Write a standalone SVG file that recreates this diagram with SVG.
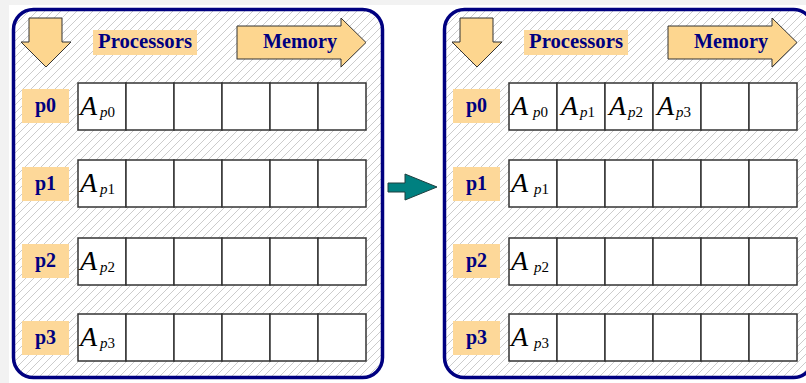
<svg xmlns="http://www.w3.org/2000/svg" width="806" height="383" viewBox="0 0 806 383">
<defs>
<pattern id="hatch" width="8" height="8" patternUnits="userSpaceOnUse">
<rect width="8" height="8" fill="#ffffff"/>
<path d="M-2,2 L2,-2 M0,8 L8,0 M6,10 L10,6" stroke="#cccccc" stroke-width="1"/>
</pattern>
<style>
.panel{fill:url(#hatch);stroke:#000080;stroke-width:3.5}
.cell{fill:#ffffff;stroke:#333333;stroke-width:1.5}
.lbl{fill:#fdd899}
.ltxt{font-family:"Liberation Serif","Times New Roman",serif;font-weight:700;font-size:20px;fill:#000080;text-anchor:middle}
.arw{fill:#fdd68f;stroke:#333333;stroke-width:1}
.A{font-family:"Liberation Serif","Times New Roman",serif;font-style:italic;font-size:28px;fill:#000000}
.sub{font-family:"Liberation Serif","Times New Roman",serif;font-size:15px;fill:#000000}
.it{font-style:italic}
</style>
</defs>
<rect width="806" height="383" fill="#ffffff"/>
<rect width="806" height="5" fill="#f2f2f2"/>
<rect width="9" height="383" fill="#f2f2f2"/>

<g id="left-panel">
<rect class="panel" x="13.5" y="9.5" width="369" height="368" rx="20" ry="20"/>
<g id="left-proc-arrow"><path class="arw" d="M29,18 H62 V42 H71 L46,67 L21,42 H29 Z"/></g>
<g id="left-proc-label"><rect class="lbl" x="93" y="30" width="104" height="25"/><text class="ltxt" x="145" y="48" textLength="94" lengthAdjust="spacingAndGlyphs">Processors</text></g>
<g id="left-mem-arrow"><path class="arw" d="M237,26 H341 V18 L366,42.5 L341,67 V59 H237 Z"/><text class="ltxt" x="300" y="48" textLength="74" lengthAdjust="spacingAndGlyphs">Memory</text></g>

<g id="left-p0">
<rect class="lbl" x="22" y="89" width="47" height="34"/><text class="ltxt" x="45.5" y="112">p0</text>
<rect class="cell" x="78" y="83" width="48" height="47"/><rect class="cell" x="126" y="83" width="48" height="47"/><rect class="cell" x="174" y="83" width="48" height="47"/><rect class="cell" x="222" y="83" width="48" height="47"/><rect class="cell" x="270" y="83" width="48" height="47"/><rect class="cell" x="318" y="83" width="48" height="47"/>
<text class="A" x="80" y="115">A</text><text class="sub" x="100" y="117"><tspan class="it">p</tspan>0</text>
</g>
<g id="left-p1">
<rect class="lbl" x="22" y="167" width="47" height="34"/><text class="ltxt" x="45.5" y="190">p1</text>
<rect class="cell" x="78" y="160" width="48" height="47"/><rect class="cell" x="126" y="160" width="48" height="47"/><rect class="cell" x="174" y="160" width="48" height="47"/><rect class="cell" x="222" y="160" width="48" height="47"/><rect class="cell" x="270" y="160" width="48" height="47"/><rect class="cell" x="318" y="160" width="48" height="47"/>
<text class="A" x="80" y="192">A</text><text class="sub" x="100" y="194"><tspan class="it">p</tspan>1</text>
</g>
<g id="left-p2">
<rect class="lbl" x="22" y="244" width="47" height="34"/><text class="ltxt" x="45.5" y="267">p2</text>
<rect class="cell" x="78" y="238" width="48" height="47"/><rect class="cell" x="126" y="238" width="48" height="47"/><rect class="cell" x="174" y="238" width="48" height="47"/><rect class="cell" x="222" y="238" width="48" height="47"/><rect class="cell" x="270" y="238" width="48" height="47"/><rect class="cell" x="318" y="238" width="48" height="47"/>
<text class="A" x="80" y="270">A</text><text class="sub" x="100" y="272"><tspan class="it">p</tspan>2</text>
</g>
<g id="left-p3">
<rect class="lbl" x="22" y="321" width="47" height="34"/><text class="ltxt" x="45.5" y="344">p3</text>
<rect class="cell" x="78" y="314" width="48" height="47"/><rect class="cell" x="126" y="314" width="48" height="47"/><rect class="cell" x="174" y="314" width="48" height="47"/><rect class="cell" x="222" y="314" width="48" height="47"/><rect class="cell" x="270" y="314" width="48" height="47"/><rect class="cell" x="318" y="314" width="48" height="47"/>
<text class="A" x="80" y="346">A</text><text class="sub" x="100" y="348"><tspan class="it">p</tspan>3</text>
</g>
</g>

<g id="connectors">
<path d="M388,183 H405 V174 L437,187 L405,200 V192 H388 Z" fill="#008080" stroke="#1f3f3f" stroke-width="1"/>
</g>

<g id="right-panel">
<rect class="panel" x="444.5" y="9.5" width="369" height="368" rx="20" ry="20"/>
<g id="right-proc-arrow"><path class="arw" d="M460,18 H493 V42 H502 L477,67 L452,42 H460 Z"/></g>
<g id="right-proc-label"><rect class="lbl" x="524" y="30" width="104" height="25"/><text class="ltxt" x="576" y="48" textLength="94" lengthAdjust="spacingAndGlyphs">Processors</text></g>
<g id="right-mem-arrow"><path class="arw" d="M668,26 H772 V18 L797,42.5 L772,67 V59 H668 Z"/><text class="ltxt" x="731" y="48" textLength="74" lengthAdjust="spacingAndGlyphs">Memory</text></g>

<g id="right-p0">
<rect class="lbl" x="453" y="89" width="47" height="34"/><text class="ltxt" x="476.5" y="112">p0</text>
<rect class="cell" x="509" y="83" width="48" height="47"/><rect class="cell" x="557" y="83" width="48" height="47"/><rect class="cell" x="605" y="83" width="48" height="47"/><rect class="cell" x="653" y="83" width="48" height="47"/><rect class="cell" x="701" y="83" width="48" height="47"/><rect class="cell" x="749" y="83" width="48" height="47"/>
<text class="A" x="511" y="115">A</text><text class="sub" x="533" y="117"><tspan class="it">p</tspan>0</text>
<text class="A" x="561" y="115">A</text><text class="sub" x="580" y="117"><tspan class="it">p</tspan>1</text>
<text class="A" x="609" y="115">A</text><text class="sub" x="628" y="117"><tspan class="it">p</tspan>2</text>
<text class="A" x="657" y="115">A</text><text class="sub" x="676" y="117"><tspan class="it">p</tspan>3</text>
</g>
<g id="right-p1">
<rect class="lbl" x="453" y="167" width="47" height="34"/><text class="ltxt" x="476.5" y="190">p1</text>
<rect class="cell" x="509" y="160" width="48" height="47"/><rect class="cell" x="557" y="160" width="48" height="47"/><rect class="cell" x="605" y="160" width="48" height="47"/><rect class="cell" x="653" y="160" width="48" height="47"/><rect class="cell" x="701" y="160" width="48" height="47"/><rect class="cell" x="749" y="160" width="48" height="47"/>
<text class="A" x="511" y="192">A</text><text class="sub" x="534" y="194"><tspan class="it">p</tspan>1</text>
</g>
<g id="right-p2">
<rect class="lbl" x="453" y="244" width="47" height="34"/><text class="ltxt" x="476.5" y="267">p2</text>
<rect class="cell" x="509" y="238" width="48" height="47"/><rect class="cell" x="557" y="238" width="48" height="47"/><rect class="cell" x="605" y="238" width="48" height="47"/><rect class="cell" x="653" y="238" width="48" height="47"/><rect class="cell" x="701" y="238" width="48" height="47"/><rect class="cell" x="749" y="238" width="48" height="47"/>
<text class="A" x="511" y="270">A</text><text class="sub" x="534" y="272"><tspan class="it">p</tspan>2</text>
</g>
<g id="right-p3">
<rect class="lbl" x="453" y="321" width="47" height="34"/><text class="ltxt" x="476.5" y="344">p3</text>
<rect class="cell" x="509" y="314" width="48" height="47"/><rect class="cell" x="557" y="314" width="48" height="47"/><rect class="cell" x="605" y="314" width="48" height="47"/><rect class="cell" x="653" y="314" width="48" height="47"/><rect class="cell" x="701" y="314" width="48" height="47"/><rect class="cell" x="749" y="314" width="48" height="47"/>
<text class="A" x="511" y="346">A</text><text class="sub" x="534" y="348"><tspan class="it">p</tspan>3</text>
</g>
</g>
</svg>
